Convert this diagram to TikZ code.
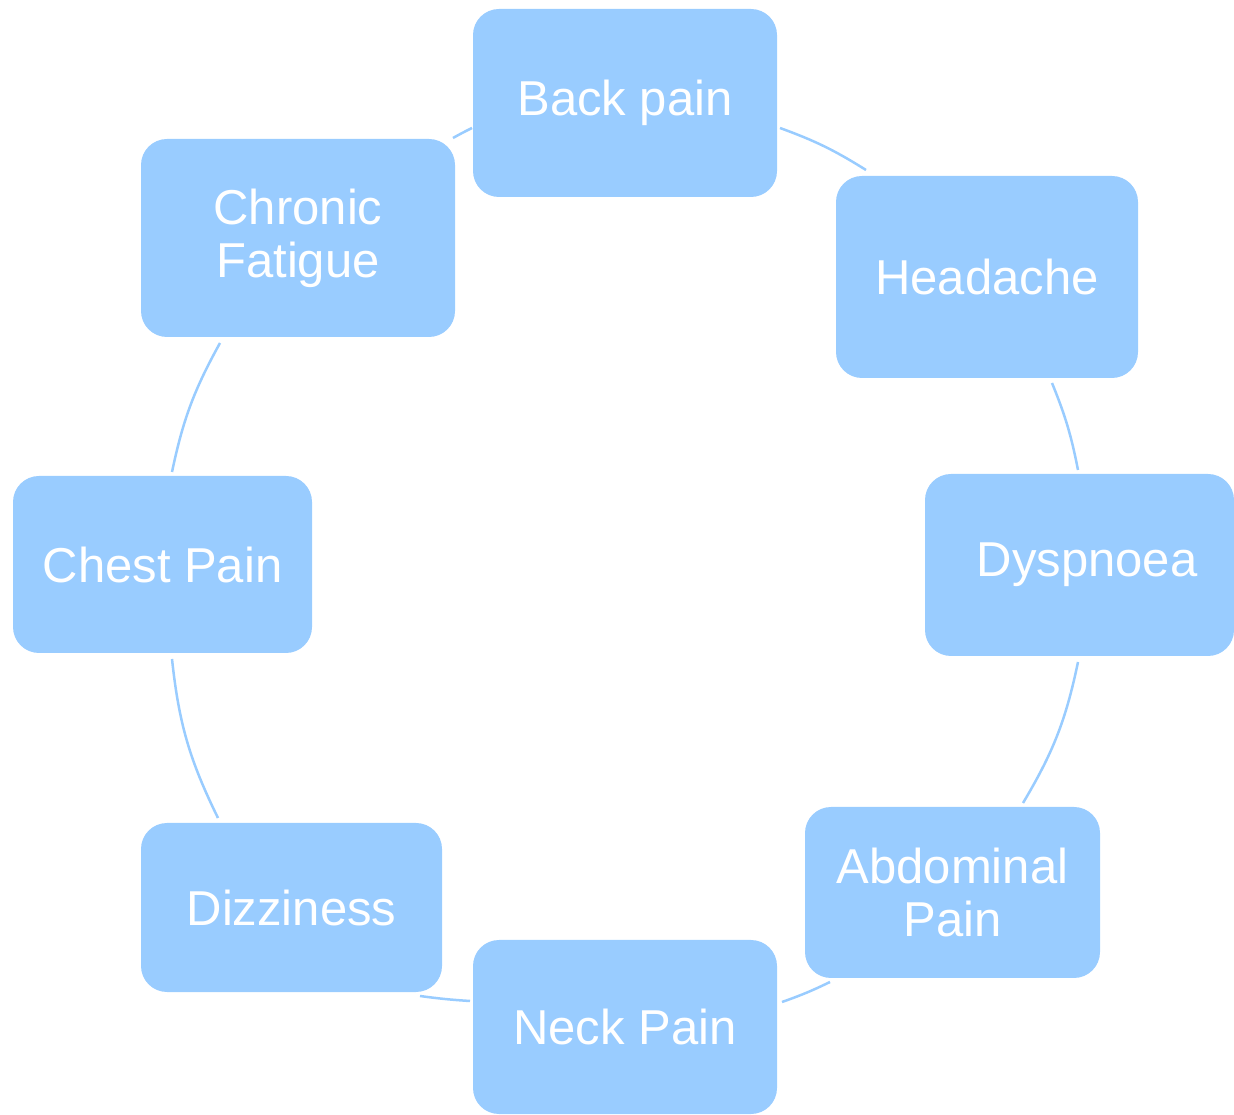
\documentclass[tikz,border=0pt]{standalone}
\usepackage{fontspec}
\setmainfont{Liberation Sans}
\definecolor{boxblue}{HTML}{99CCFF}
\begin{document}
\begin{tikzpicture}[x=1pt,y=1pt,
  symbox/.style={fill=boxblue, draw=none, rounded corners=26pt, text=white,
    align=center, inner sep=0pt, font=\fontsize{49}{53}\selectfont},
  conn/.style={draw=boxblue, line width=2.5pt}]
\useasboundingbox (0,0) rectangle (1234,1114);
\node[symbox, minimum width=304pt, minimum height=188pt] (back) at (625,1011) {Back pain};
\node[symbox, minimum width=302pt, minimum height=202pt] (head) at (987,837) {Headache};
\node[symbox, minimum width=309pt, minimum height=182pt] (dysp) at (1079.5,549) {\hspace*{15pt}Dyspnoea};
\node[symbox, minimum width=295pt, minimum height=171pt] (abdo) at (952.5,221.5) {Abdominal\\Pain};
\node[symbox, minimum width=304pt, minimum height=174pt] (neck) at (625,87) {Neck Pain};
\node[symbox, minimum width=301pt, minimum height=169pt] (dizz) at (291.5,206.5) {Dizziness};
\node[symbox, minimum width=299pt, minimum height=177pt] (chest) at (162.5,549.5) {Chest Pain};
\node[symbox, minimum width=314pt, minimum height=198pt] (chron) at (298,876) {Chronic\\Fatigue};
% connector end points
\coordinate (a1) at (780,986);  \coordinate (b1) at (866,944);
\coordinate (a2) at (1052,731); \coordinate (b2) at (1078,644);
\coordinate (a3) at (1078,452); \coordinate (b3) at (1023,311);
\coordinate (a4) at (830,132);  \coordinate (b4) at (782,112);
\coordinate (a5) at (470,113);  \coordinate (b5) at (420,118);
\coordinate (a6) at (218,296);  \coordinate (b6) at (172,455);
\coordinate (a7) at (172,642);  \coordinate (b7) at (220,771);
\coordinate (a8) at (453,976);  \coordinate (b8) at (472,986);
\draw[conn] (a1) to[bend left=6] (b1);
\draw[conn] (a2) to[bend left=5.5] (b2);
\draw[conn] (a3) to[bend left=9.5] (b3);
\draw[conn] (a4) to[bend left=3.2] (b4);
\draw[conn] (a5) to[bend left=2] (b5);
\draw[conn] (a6) to[bend left=10] (b6);
\draw[conn] (a7) to[bend left=8.5] (b7);
\draw[conn] (a8) to[bend left=1.5] (b8);
\end{tikzpicture}
\end{document}
